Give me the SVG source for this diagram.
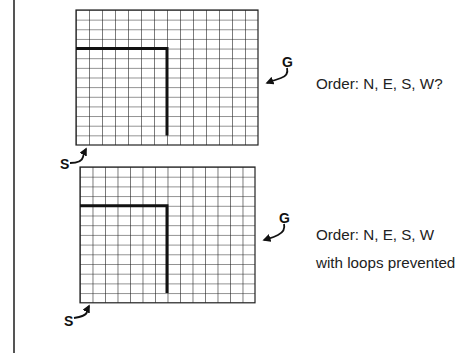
<svg xmlns="http://www.w3.org/2000/svg" width="463" height="353" viewBox="0 0 463 353">
<defs>
<pattern id="gt" x="76" y="10" width="13" height="9.643" patternUnits="userSpaceOnUse">
<path d="M0 0V9.643M0 0H13" fill="none" stroke="#222" stroke-width="1.2"/>
</pattern>
<pattern id="gb" x="80" y="167" width="12.5" height="9.7" patternUnits="userSpaceOnUse">
<path d="M0 0V9.7M0 0H12.5" fill="none" stroke="#222" stroke-width="1.2"/>
</pattern>
<marker id="ah" viewBox="0 0 10 10" refX="8" refY="5" markerWidth="4.5" markerHeight="4.5" orient="auto">
<path d="M0 0L10 5L0 10z" fill="#111"/>
</marker>
</defs>
<style>
.lbl{font-family:"Liberation Sans",Arial,sans-serif;font-size:15.2px;fill:#222}
.sg{font-family:"Liberation Sans",Arial,sans-serif;font-size:14px;font-weight:bold;fill:#111}
.wall{fill:none;stroke:#111;stroke-width:3}
.cur{fill:none;stroke:#111;stroke-width:1.8;marker-end:url(#ah)}
</style>
<rect width="463" height="353" fill="#fff"/>
<line x1="14" y1="0" x2="14" y2="353" stroke="#555" stroke-width="2"/>
<g id="grid-top">
<rect x="76" y="10" width="182" height="135" fill="url(#gt)" stroke="#222" stroke-width="1.2"/>
<path class="wall" d="M76 48.6H167V135.4"/>
</g>
<g id="grid-bottom">
<rect x="80" y="167" width="175" height="135.8" fill="url(#gb)" stroke="#222" stroke-width="1.2"/>
<path class="wall" d="M80 205.8H167V293"/>
</g>
<g id="start-top">
<text class="sg" x="60" y="169">S</text>
<path class="cur" d="M70 163C76 163 82 162 83 157S85 151 86 149"/>
</g>
<g id="goal-top">
<text class="sg" x="282" y="67">G</text>
<path class="cur" d="M287 68C288 72 287 76 281 78S272 81 267 83"/>
</g>
<g id="start-bottom">
<text class="sg" x="64" y="326">S</text>
<path class="cur" d="M74 318C80 317 86 316 87 312S88 308 89 306"/>
</g>
<g id="goal-bottom">
<text class="sg" x="279" y="223">G</text>
<path class="cur" d="M284 224C285 228 284 232 278 235S270 238 264 240"/>
</g>
<g id="labels">
<text class="lbl" x="316" y="89">Order: N, E, S, W?</text>
<text class="lbl" x="316" y="240">Order: N, E, S, W</text>
<text class="lbl" x="316" y="268">with loops prevented</text>
</g>
</svg>
